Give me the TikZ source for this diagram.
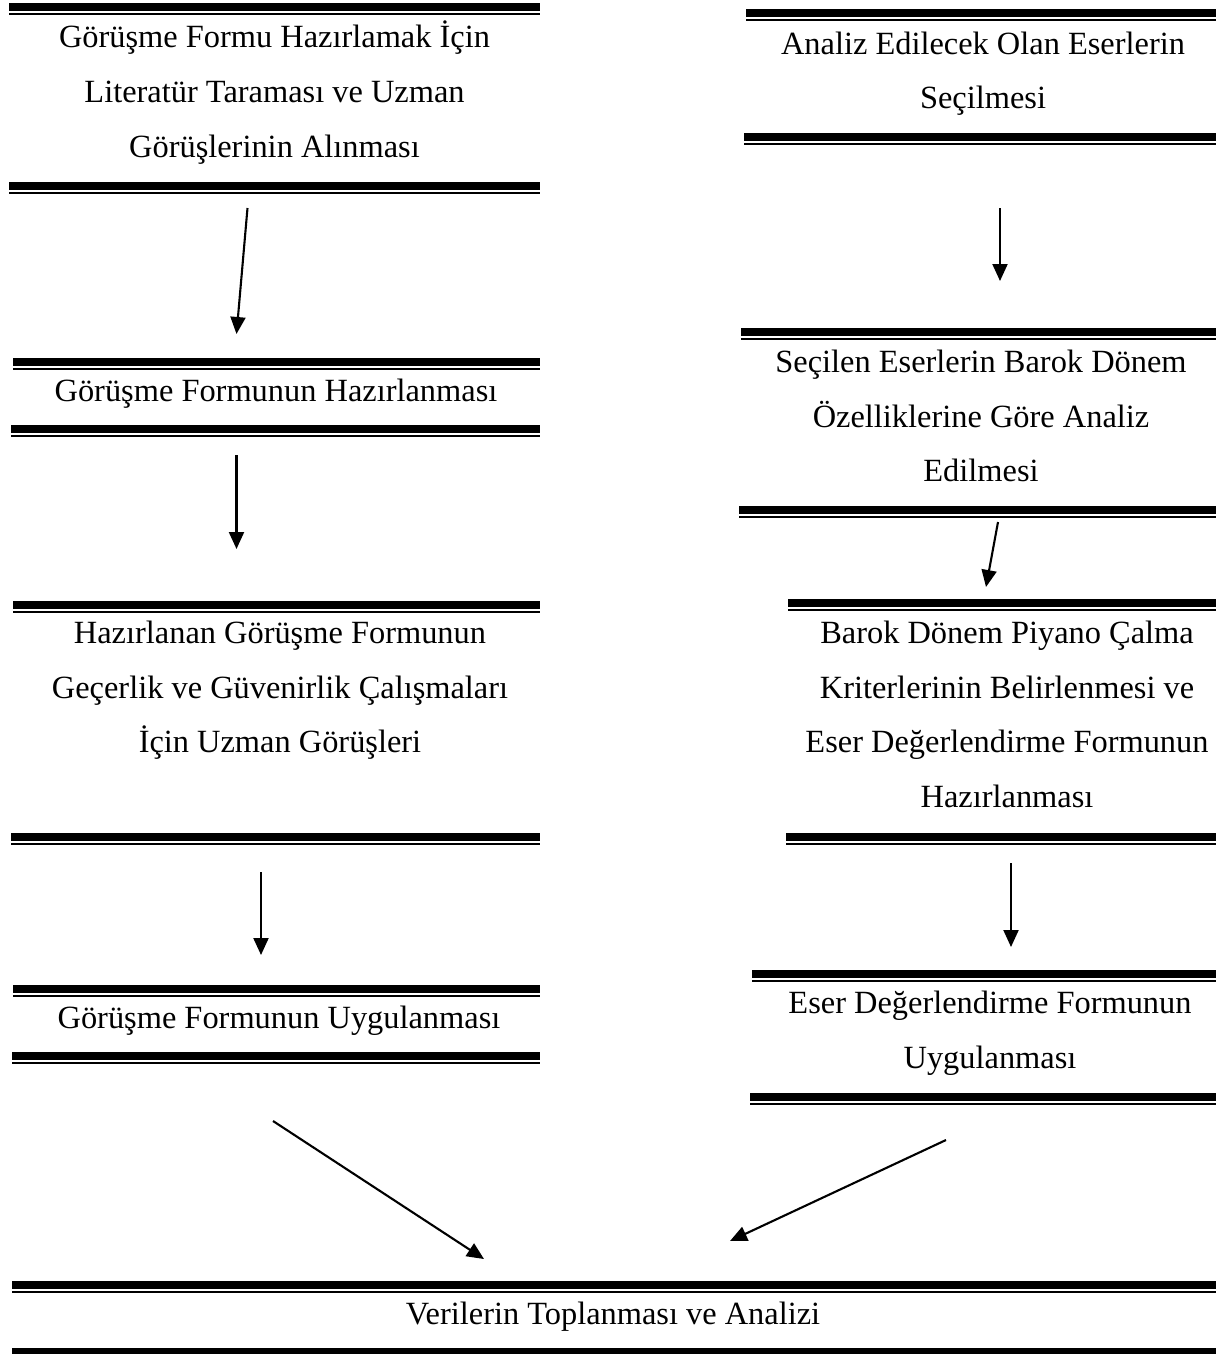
\documentclass[tikz,border=0pt]{standalone}
\usepackage{fontspec}
\setmainfont{Liberation Serif}
\usetikzlibrary{arrows.meta}
\newcommand\dblbar[3]{%
  \fill (#1,#3) rectangle (#2,#3+8.2);
  \fill (#1,#3+9.6) rectangle (#2,#3+12);}
\begin{document}
\begin{tikzpicture}[x=0.5pt,y=-0.5pt,
  txt/.style={align=center,inner sep=0pt,font=\fontsize{16.2pt}{27.3pt}\selectfont},
  arr/.style={line width=1.05pt,-{Triangle[length=8.5pt,width=7.5pt]}}]
\useasboundingbox (0,0) rectangle (1219,1354);
% ---- left column ----
\dblbar{9}{540}{3}
\node[txt] (l1) at (274.5,91.6) {\strut Görüşme Formu Hazırlamak İçin\\\strut Literatür Taraması ve Uzman\\\strut Görüşlerinin Alınması};
\dblbar{9}{540}{182}

\dblbar{13}{540}{358}
\node[txt] (l2) at (276,390.1) {\strut Görüşme Formunun Hazırlanması};
\dblbar{11}{540}{425}

\dblbar{13}{540}{601}
\node[txt] (l3) at (280,687.4) {\strut Hazırlanan Görüşme Formunun\\\strut Geçerlik ve Güvenirlik Çalışmaları\\\strut İçin Uzman Görüşleri};
\dblbar{11}{540}{833}

\dblbar{13}{540}{985}
\node[txt] (l4) at (279,1017.1) {\strut Görüşme Formunun Uygulanması};
\dblbar{12}{540}{1052}

% ---- right column ----
\dblbar{746}{1216}{9}
\node[txt] (r1) at (983,70.5) {\strut Analiz Edilecek Olan Eserlerin\\\strut Seçilmesi};
\dblbar{744}{1216}{133}

\dblbar{741}{1216}{328}
\node[txt] (r2) at (981,416.4) {\strut Seçilen Eserlerin Barok Dönem\\\strut Özelliklerine Göre Analiz\\\strut Edilmesi};
\dblbar{739}{1216}{506}

\dblbar{788}{1216}{599}
\node[txt] (r3) at (1007,714.4) {\strut Barok Dönem Piyano Çalma\\\strut Kriterlerinin Belirlenmesi ve\\\strut Eser Değerlendirme Formunun\\\strut Hazırlanması};
\dblbar{786}{1216}{833}

\dblbar{752}{1216}{970}
\node[txt] (r4) at (990,1030) {\strut Eser Değerlendirme Formunun\\\strut Uygulanması};
\dblbar{750}{1216}{1093}

% ---- bottom ----
\dblbar{12}{1216}{1281}
\node[txt] (b) at (613,1313.8) {\strut Verilerin Toplanması ve Analizi};
\dblbar{12}{1216}{1348}

% ---- arrows ----
\coordinate (a1s) at (247.5,208);  \coordinate (a1e) at (236.5,334);
\coordinate (a2s) at (236.5,455);  \coordinate (a2e) at (236.5,549);
\coordinate (a3s) at (261,872);    \coordinate (a3e) at (261,955);
\coordinate (a4s) at (1000,208);   \coordinate (a4e) at (1000,281);
\coordinate (a5s) at (998,522);    \coordinate (a5e) at (986,587);
\coordinate (a6s) at (1011,863);   \coordinate (a6e) at (1011,947);
\coordinate (a7s) at (273,1121);   \coordinate (a7e) at (484,1259);
\coordinate (a8s) at (946,1140);   \coordinate (a8e) at (730,1241);
\draw[arr] (a1s) -- (a1e);
\draw[arr] (a2s) -- (a2e);
\draw[arr] (a3s) -- (a3e);
\draw[arr] (a4s) -- (a4e);
\draw[arr] (a5s) -- (a5e);
\draw[arr] (a6s) -- (a6e);
\draw[arr] (a7s) -- (a7e);
\draw[arr] (a8s) -- (a8e);
\end{tikzpicture}
\end{document}
